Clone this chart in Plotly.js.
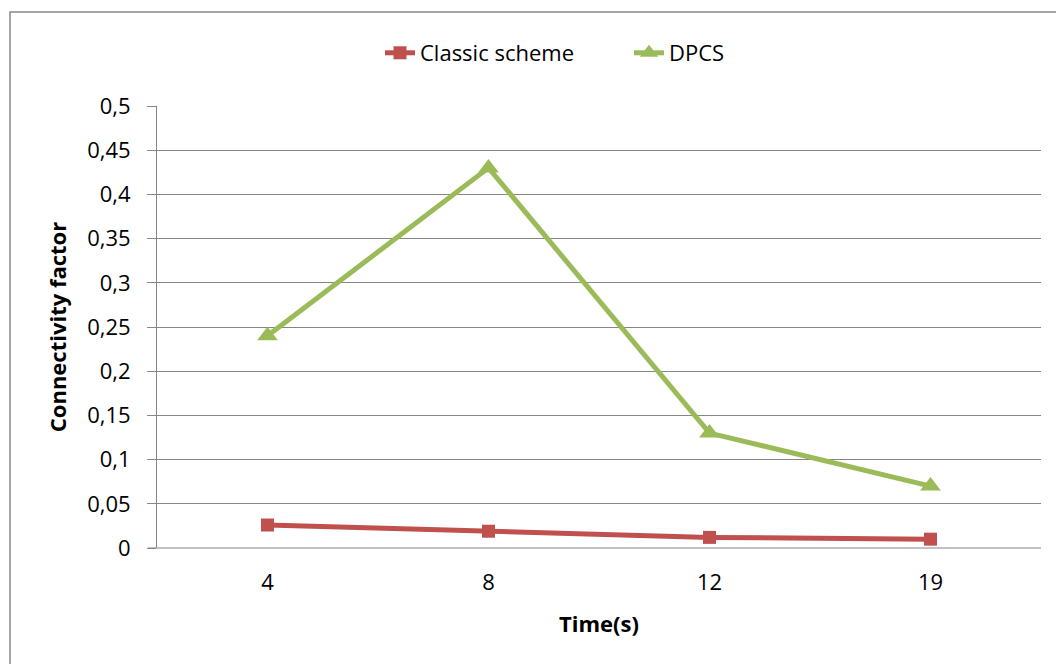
<!DOCTYPE html>
<html>
<head>
<meta charset="utf-8">
<script src="https://cdn.plot.ly/plotly-3.0.1.min.js"></script>
<style>html,body{margin:0;padding:0;background:#fff;}#chart{width:1056px;height:664px;}</style>
</head>
<body>
<div id="chart"></div>
<script>
const categories = ["4", "8", "12", "19"];
const classicScheme = [0.026, 0.019, 0.012, 0.010];
const dpcs = [0.24, 0.43, 0.13, 0.07];
const yTicks = [0, 0.05, 0.1, 0.15, 0.2, 0.25, 0.3, 0.35, 0.4, 0.45, 0.5];

const FONT = "Open Sans, Noto Sans, sans-serif";
const traces = [
  {x: categories, y: classicScheme, name: "Classic scheme", type: "scatter", mode: "lines+markers",
   line: {color: "#C0504D", width: 5}, marker: {symbol: "square", size: 13, color: "#C0504D"}},
  {x: categories, y: dpcs, name: "DPCS", type: "scatter", mode: "lines+markers",
   line: {color: "#9BBB59", width: 5}, marker: {symbol: "triangle-up", size: 18, color: "#9BBB59"}}
];
const W = 884, H = 442;
const layout = {
  width: 1056, height: 664,
  margin: {l: 157, r: 15, t: 106, b: 116},
  paper_bgcolor: "#fff", plot_bgcolor: "#fff",
  separators: ", ",
  font: {family: FONT, size: 22, color: "#000"},
  showlegend: true,
  legend: {orientation: "h", x: (380 - 157)/W, xanchor: "left", y: 1 + 53/H, yanchor: "middle",
           font: {family: FONT, size: 22, color: "#000"}, tracegroupgap: 0,
           entrywidth: 204, entrywidthmode: "pixels"},
  xaxis: {type: "category", showgrid: false, showline: false, zeroline: false, ticks: "",
          range: [-0.5, 3.5], tickfont: {family: FONT, size: 22}, ticklabelstandoff: 19,
          title: {text: "<b>Time(s)</b>", font: {family: FONT, size: 22}, standoff: 21}},
  yaxis: {range: [0, 0.5], tickvals: yTicks, showgrid: true, gridcolor: "#868686", gridwidth: 1,
          showline: true, linecolor: "#868686", linewidth: 1, ticks: "outside", ticklen: 9,
          tickcolor: "#868686", zeroline: false, tickfont: {family: FONT, size: 22},
          ticklabelstandoff: 12,
          title: {text: "<b>Connectivity factor</b>", font: {family: FONT, size: 22}, standoff: 14}},
  shapes: [
    {type: "line", xref: "paper", yref: "paper", x0: -9/W, x1: 1, y0: 0, y1: 0,
     line: {color: "#868686", width: 1.2}},
    {type: "rect", xref: "paper", yref: "paper", x0: -147/W, x1: 1.1, y0: -0.5, y1: 1 + 94/H,
     line: {color: "#888888", width: 1.5}, fillcolor: "rgba(0,0,0,0)"}
  ]
};
Plotly.newPlot("chart", traces, layout, {displayModeBar: false, staticPlot: true});
</script>
</body>
</html>
